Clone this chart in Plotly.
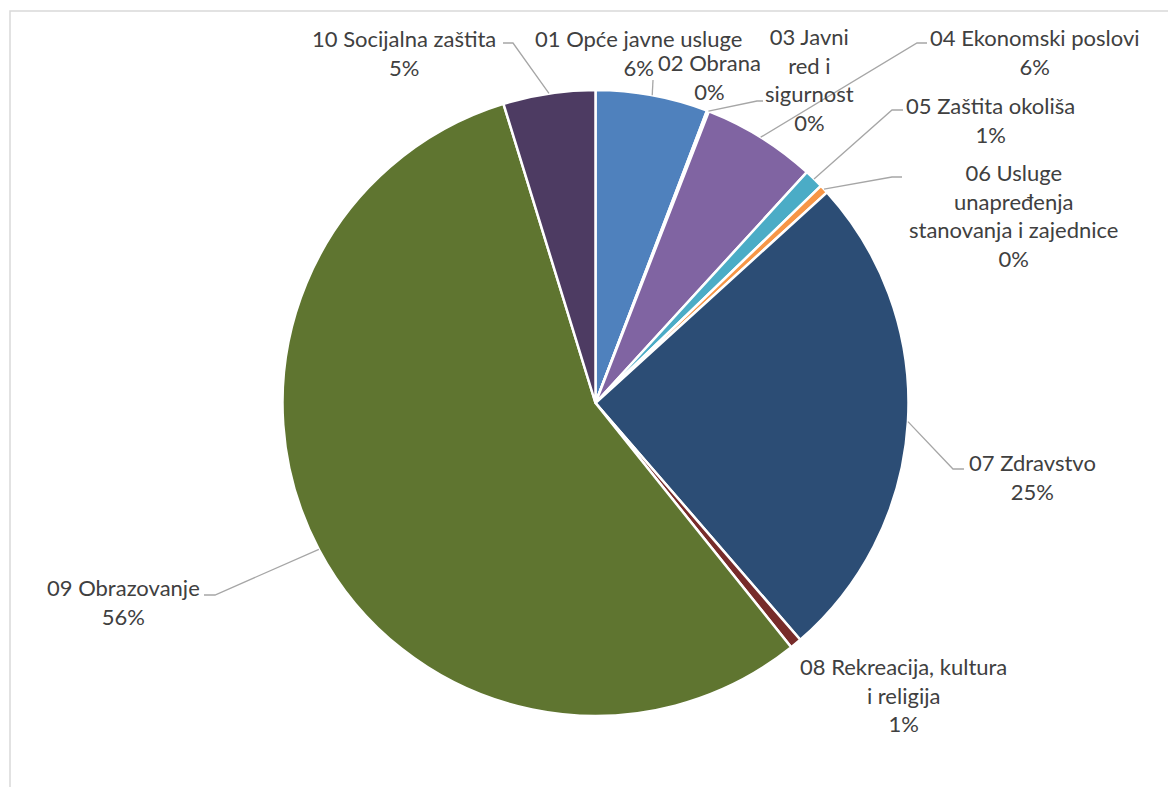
import math
import plotly.graph_objects as go

# ---- data ----
categories = [
    "01 Opće javne usluge",
    "02 Obrana",
    "03 Javni red i sigurnost",
    "04 Ekonomski poslovi",
    "05 Zaštita okoliša",
    "06 Usluge unapređenja stanovanja i zajednice",
    "07 Zdravstvo",
    "08 Rekreacija, kultura i religija",
    "09 Obrazovanje",
    "10 Socijalna zaštita",
]
shares = [5.8, 0.05, 0.05, 5.9, 1.0, 0.45, 25.4, 0.6, 56.0, 4.75]

# ---- styles / layout ----
colors = ["#4F81BD", "#C0504D", "#9BBB59", "#8064A2", "#4BACC6",
          "#F79646", "#2C4D75", "#772C2A", "#5F7530", "#4D3B62"]
wrapped = [
    "01 Opće javne usluge",
    "02 Obrana",
    "03 Javni<br>red i<br>sigurnost",
    "04 Ekonomski poslovi",
    "05 Zaštita okoliša",
    "06 Usluge<br>unapređenja<br>stanovanja i zajednice",
    "07 Zdravstvo",
    "08 Rekreacija, kultura<br>i religija",
    "09 Obrazovanje",
    "10 Socijalna zaštita",
]
label_pos = [(638, 53), (709, 77), (809, 80), (1035, 52), (990, 120),
             (1013, 215), (1032, 477), (903, 695), (123, 602), (404, 53)]
leader_pts = {
    0: [(653, 80)],
    2: [(757, 101), (763, 101)],
    3: [(917, 43), (927, 43)],
    4: [(892, 110), (903, 110)],
    5: [(892, 177), (902, 177)],
    6: [(953, 469), (964, 469)],
    8: [(215, 595), (204, 595)],
    9: [(513, 43), (503, 43)],
}

W, H = 1168, 787
CX, CY, R = 595.5, 403.0, 313.0
FONT = "Lato"
TXT = "#404040"


def px(x):
    return x / W


def py(y):
    return 1 - y / H


fig = go.Figure(go.Pie(
    labels=categories,
    values=shares,
    sort=False,
    direction="clockwise",
    rotation=0,
    marker=dict(colors=colors, line=dict(color="white", width=2.5)),
    textinfo="none",
    hoverinfo="skip",
    showlegend=False,
    domain=dict(x=[px(CX - R), px(CX + R)], y=[py(CY + R), py(CY - R)]),
))

total = sum(shares)
cum = 0.0
shapes = []
annotations = []
for i, v in enumerate(shares):
    mid = 2 * math.pi * (cum + v / 2) / total
    cum += v
    pct = round(v / total * 100)
    x, y = label_pos[i]
    annotations.append(dict(
        x=px(x), y=py(y), xref="paper", yref="paper",
        text=f"{wrapped[i]}<br>{pct}%", showarrow=False,
        xanchor="center", yanchor="middle", align="center",
        font=dict(family=FONT, size=22, color=TXT),
    ))
    if i in leader_pts:
        ex = CX + R * math.sin(mid)
        ey = CY - R * math.cos(mid)
        pts = [(ex, ey)] + leader_pts[i]
        path = "M " + " L ".join(f"{px(a):.5f},{py(b):.5f}" for a, b in pts)
        shapes.append(dict(type="path", path=path, xref="paper", yref="paper",
                           line=dict(color="#A6A6A6", width=1.3)))

# chart area border (extends past right/bottom edges)
shapes.append(dict(type="rect", xref="paper", yref="paper",
                   x0=px(10), x1=px(1200), y0=py(11), y1=py(820),
                   line=dict(color="#D9D9D9", width=1.5), layer="below"))

fig.update_layout(
    width=W, height=H,
    margin=dict(l=0, r=0, t=0, b=0),
    paper_bgcolor="white", plot_bgcolor="white",
    shapes=shapes, annotations=annotations,
)
fig.write_html("out.html", config={"displayModeBar": False},
               post_script="document.body.style.margin='0';document.body.style.overflow='hidden';")
